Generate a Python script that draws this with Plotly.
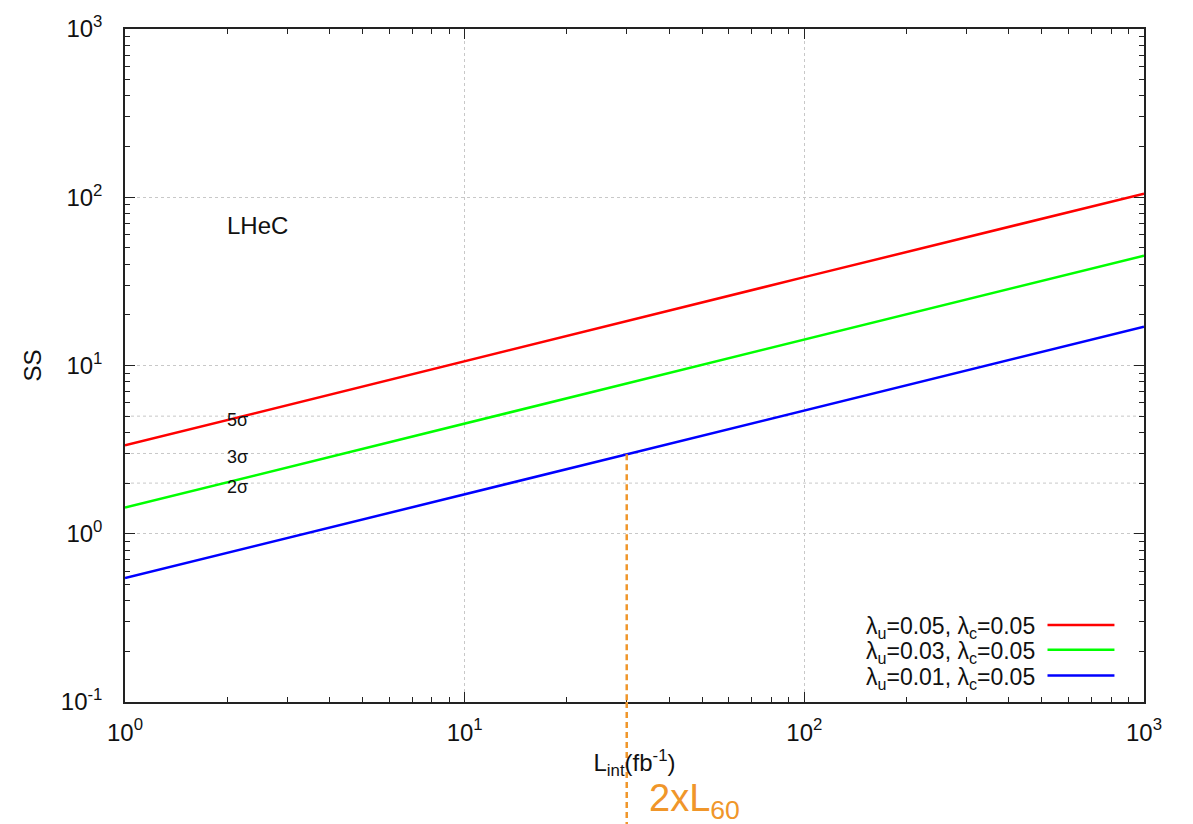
import numpy as np
import plotly.graph_objects as go

# ---- data ----
L_int = [1, 10, 100, 1000]
ss_red = [3.35, 10.6, 33.5, 105]
ss_green = [1.43, 4.5, 14.2, 45]
ss_blue = [0.545, 1.72, 5.4, 17]
series_labels = [
    "λ<sub>u</sub>=0.05, λ<sub>c</sub>=0.05",
    "λ<sub>u</sub>=0.03, λ<sub>c</sub>=0.05",
    "λ<sub>u</sub>=0.01, λ<sub>c</sub>=0.05",
]
series_colors = ["#ff0000", "#00ff00", "#0000ff"]
sigma_levels = [5, 3, 2]
sigma_labels = ["5σ", "3σ", "2σ"]
L_marker = 30  # 2 x L60
x_tickvals = [1, 10, 100, 1000]
x_ticktext = ["10<sup>0</sup>", "10<sup>1</sup>", "10<sup>2</sup>", "10<sup>3</sup>"]
y_tickvals = [0.1, 1, 10, 100, 1000]
y_ticktext = ["10<sup>-1</sup>", "10<sup>0</sup>", "10<sup>1</sup>", "10<sup>2</sup>", "10<sup>3</sup>"]

FONT = "Liberation Sans, Arial, Helvetica, sans-serif"
ORANGE = "#f0962a"
TXT = "#111111"

fig = go.Figure()
for ys, name, col in zip([ss_red, ss_green, ss_blue], series_labels, series_colors):
    fig.add_trace(go.Scatter(x=L_int, y=ys, mode="lines", name=name,
                             line=dict(color=col, width=2.5), showlegend=False))

minor_x = [m * 10 ** d for d in range(0, 3) for m in range(2, 10)]
minor_y = [m * 10 ** d for d in range(-1, 3) for m in range(2, 10)]

axis_common = dict(
    type="log", ticks="inside", ticklen=10, tickwidth=1.2, tickcolor="#222",
    mirror="ticks", showline=True, linecolor="#222", linewidth=1.5,
    showgrid=True, gridcolor="#c8c8c8", griddash="dot", gridwidth=1,
    tickfont=dict(family=FONT, size=24, color=TXT),
    zeroline=False,
)

fig.update_xaxes(**axis_common, range=[0, 3], tickmode="array",
                 tickvals=x_tickvals, ticktext=x_ticktext,
                 minor=dict(tickmode="array", tickvals=minor_x, ticks="inside",
                            ticklen=5, tickcolor="#222", showgrid=False),
                 ticklabelstandoff=8,
                 title=dict(text="L<sub>int</sub>(fb<sup>-1</sup>)",
                            font=dict(family=FONT, size=24, color=TXT), standoff=10))
fig.update_yaxes(**axis_common, range=[-1, 3], tickmode="array",
                 tickvals=y_tickvals, ticktext=y_ticktext,
                 minor=dict(tickmode="array", tickvals=minor_y, ticks="inside",
                            ticklen=5, tickcolor="#222", showgrid=False),
                 ticklabelstandoff=16,
                 title=dict(text="SS", font=dict(family=FONT, size=24, color=TXT), standoff=12))

# extra dotted grid lines at sigma levels
for lv in sigma_levels:
    fig.add_shape(type="line", xref="paper", yref="y", x0=0, x1=1, y0=lv, y1=lv,
                  line=dict(color="#c8c8c8", width=1, dash="dot"), layer="below")

# sigma labels
for lv, txt in zip(sigma_levels, sigma_labels):
    fig.add_annotation(x=np.log10(2), y=np.log10(lv), xref="x", yref="y", text=txt,
                       showarrow=False, xanchor="left", yanchor="middle", yshift=-4, xshift=-2,
                       font=dict(family=FONT, size=18, color=TXT))

fig.add_annotation(x=np.log10(2), y=np.log10(68), xref="x", yref="y", text="LHeC",
                   showarrow=False, xanchor="left", yanchor="middle", xshift=-2,
                   font=dict(family=FONT, size=24, color=TXT))

# orange dashed marker line at 2 x L60
y_top = 10 ** np.interp(np.log10(L_marker), np.log10(L_int), np.log10(ss_blue))
fig.add_shape(type="line", xref="x", yref="y", x0=L_marker, x1=L_marker, y0=y_top, y1=0.1,
              line=dict(color=ORANGE, width=2.5, dash="6px,4px"))
fig.add_shape(type="line", xref="x", yref="paper", x0=L_marker, x1=L_marker, y0=0, y1=-0.189,
              line=dict(color=ORANGE, width=2.5, dash="6px,4px"))
fig.add_annotation(x=np.log10(L_marker), y=-0.147, xref="x", yref="paper",
                   text="2xL<sub>60</sub>", showarrow=False, xanchor="left", yanchor="middle",
                   xshift=20, font=dict(family=FONT, size=38, color=ORANGE))

# manual legend (text on left, line sample on right, gnuplot style)
for lbl, col, yy in zip(series_labels, series_colors, [0.1105, 0.0737, 0.0354]):
    fig.add_annotation(x=0.8950, y=yy, xref="paper", yref="paper", text=lbl,
                       showarrow=False, xanchor="right", yanchor="middle",
                       font=dict(family=FONT, size=23, color=TXT))
    fig.add_shape(type="line", xref="paper", yref="paper", x0=0.9053, x1=0.9710,
                  y0=yy + 0.004, y1=yy + 0.004, line=dict(color=col, width=2.5))

fig.update_layout(
    width=1193, height=824,
    margin=dict(l=125, r=49, t=24, b=122),
    plot_bgcolor="white", paper_bgcolor="white",
    font=dict(family=FONT),
)

fig.write_html("out.html")
